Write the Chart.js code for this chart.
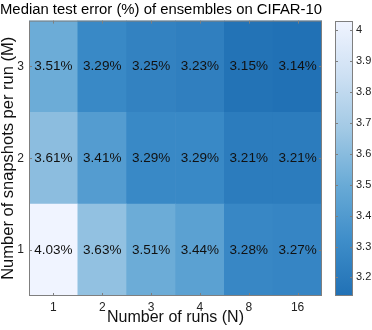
<!DOCTYPE html>
<html lang="en">
<head>
<meta charset="UTF-8">
<title>Median test error of ensembles</title>
<script src="https://cdn.jsdelivr.net/npm/chart.js"></script>
<style>
  body { margin: 0; background: #fff; }
  #wrap { position: relative; width: 372px; height: 330px; }
  #wrap canvas { position: absolute; top: 0; }
</style>
</head>
<body>
<div id="wrap">
  <canvas id="heat" width="352" height="330" style="left:0"></canvas>
  <canvas id="cbar" width="50" height="330" style="left:322px"></canvas>
</div>
<script>
// data
const runs = ['1', '2', '3', '4', '8', '16'];      // N, x axis
const snapshots = [1, 2, 3];                        // M, y axis
const errM1 = [4.03, 3.63, 3.51, 3.44, 3.28, 3.27];
const errM2 = [3.61, 3.41, 3.29, 3.29, 3.21, 3.21];
const errM3 = [3.51, 3.29, 3.25, 3.23, 3.15, 3.14];
const errRows = [errM1, errM2, errM3];
const cbTicks = [3.2, 3.3, 3.4, 3.5, 3.6, 3.7, 3.8, 3.9, 4];
const cmin = 3.14, cmax = 4.03;

// colormap, dark blue (low) -> pale (high)
const stops = [
  [0.0, [33, 113, 181]],
  [0.2, [62, 141, 201]],
  [0.4, [104, 170, 214]],
  [0.6, [160, 200, 228]],
  [0.8, [205, 224, 243]],
  [1.0, [240, 244, 255]]
];
function colorFor(v) {
  let t = Math.max(0, Math.min(1, (v - cmin) / (cmax - cmin)));
  for (let i = 1; i < stops.length; i++) {
    if (t <= stops[i][0]) {
      const a = stops[i - 1], b = stops[i];
      const f = (t - a[0]) / (b[0] - a[0]);
      const c = a[1].map((x, k) => Math.round(x + (b[1][k] - x) * f));
      return 'rgb(' + c.join(',') + ')';
    }
  }
  return 'rgb(' + stops[stops.length - 1][1].join(',') + ')';
}

const font = "'Liberation Sans', Arial, sans-serif";
const boxColor = '#7f7f7f';

// box + inward tick marks
const boxPlugin = {
  id: 'box',
  afterDraw(chart, args, opts) {
    const { ctx, chartArea: a } = chart;
    ctx.save();
    ctx.strokeStyle = boxColor;
    ctx.lineWidth = 1;
    ctx.strokeRect(a.left + 0.5, a.top + 0.5, a.right - a.left - 1, a.bottom - a.top - 1);
    const len = 3;
    ctx.beginPath();
    if (opts.xTicks) {
      const xs = chart.scales.x;
      xs.ticks.forEach((t, i) => {
        const px = Math.round(xs.getPixelForTick(i)) + 0.5;
        ctx.moveTo(px, a.top); ctx.lineTo(px, a.top + len);
        ctx.moveTo(px, a.bottom); ctx.lineTo(px, a.bottom - len);
      });
    }
    const ys = chart.scales.y;
    ys.ticks.forEach((t, i) => {
      const py = Math.round(ys.getPixelForTick(i)) + 0.5;
      ctx.moveTo(a.left, py); ctx.lineTo(a.left + len, py);
      ctx.moveTo(a.right, py); ctx.lineTo(a.right - len, py);
    });
    ctx.stroke();
    ctx.restore();
  }
};

// value text inside each cell
const cellLabels = {
  id: 'cellLabels',
  afterDatasetsDraw(chart) {
    const ctx = chart.ctx;
    ctx.save();
    ctx.font = '13.5px ' + font;
    ctx.fillStyle = '#111';
    ctx.textAlign = 'center';
    ctx.textBaseline = 'middle';
    chart.data.datasets.forEach((ds, di) => {
      chart.getDatasetMeta(di).data.forEach((el, i) => {
        const yc = (el.y + el.base) / 2;
        ctx.fillText(ds.values[i].toFixed(2) + '%', el.x, yc);
      });
    });
    ctx.restore();
  }
};

new Chart(document.getElementById('heat'), {
  type: 'bar',
  data: {
    labels: runs,
    datasets: snapshots.map((m, r) => ({
      label: 'M=' + m,
      values: errRows[r],
      data: runs.map(() => [m - 0.5, m + 0.5]),
      backgroundColor: errRows[r].map(colorFor),
      borderWidth: 0,
      barPercentage: 1,
      categoryPercentage: 1,
      grouped: false
    }))
  },
  options: {
    responsive: false,
    animation: false,
    layout: { padding: { left: 0, right: 30, top: 0, bottom: 0 } },
    plugins: {
      legend: { display: false },
      tooltip: { enabled: false },
      title: {
        display: true,
        text: 'Median test error (%) of ensembles on CIFAR-10',
        color: '#000',
        font: { family: font, size: 15.5, weight: 'normal', lineHeight: 1.2 },
        padding: { top: 0, bottom: 2 }
      },
      box: { xTicks: true }
    },
    scales: {
      x: {
        grid: { display: false, drawTicks: false },
        border: { display: false },
        ticks: { color: '#222', font: { family: font, size: 12 }, padding: 4, maxRotation: 0 },
        title: {
          display: true, text: 'Number of runs (N)', color: '#111',
          font: { family: font, size: 16, lineHeight: 1 }, padding: { top: 0, bottom: 4 }
        },
        afterFit(s) { s.height = 34; }
      },
      y: {
        min: 0.5, max: 3.5,
        grid: { display: false, drawTicks: false },
        border: { display: false },
        afterBuildTicks(s) { s.ticks = snapshots.map(v => ({ value: v })); },
        ticks: { color: '#222', font: { family: font, size: 12 }, padding: 5 },
        title: {
          display: true, text: 'Number of snapshots per run (M)', color: '#111',
          font: { family: font, size: 16.5, lineHeight: 1 }, padding: 0
        },
        afterFit(s) { s.width = 29; }
      }
    }
  },
  plugins: [cellLabels, boxPlugin]
});

// colorbar
function barGradient(ctx) {
  const chart = ctx.chart;
  const a = chart.chartArea;
  if (!a) return colorFor(cmin);
  const g = chart.ctx.createLinearGradient(0, a.bottom, 0, a.top);
  stops.forEach(s => g.addColorStop(s[0], 'rgb(' + s[1].join(',') + ')'));
  return g;
}

new Chart(document.getElementById('cbar'), {
  type: 'bar',
  data: {
    labels: [''],
    datasets: [{
      data: [[cmin, cmax]],
      backgroundColor: barGradient,
      borderWidth: 0,
      barPercentage: 1,
      categoryPercentage: 1
    }]
  },
  options: {
    responsive: false,
    animation: false,
    layout: { padding: { left: 13, right: 0, top: 21, bottom: 34 } },
    plugins: { legend: { display: false }, tooltip: { enabled: false }, box: { xTicks: false } },
    scales: {
      x: { display: false },
      y: {
        position: 'right',
        min: cmin, max: cmax,
        grid: { display: false, drawTicks: false },
        border: { display: false },
        afterBuildTicks(s) { s.ticks = cbTicks.map(v => ({ value: v })); },
        ticks: {
          color: '#222', font: { family: font, size: 11 }, padding: 3,
          callback: v => String(v)
        },
        afterFit(s) { s.width = 19; }
      }
    }
  },
  plugins: [boxPlugin]
});
</script>
</body>
</html>
